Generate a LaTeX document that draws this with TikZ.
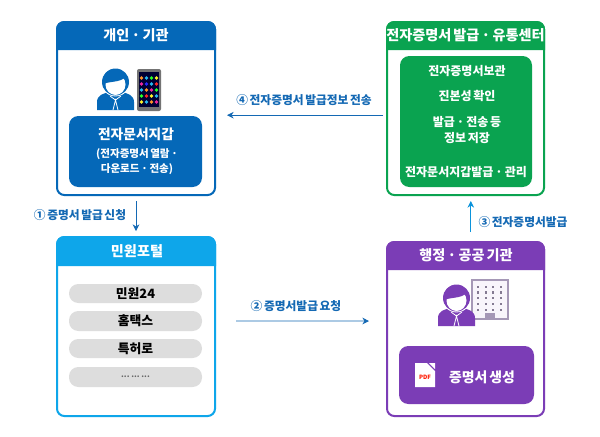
\documentclass[tikz,border=0pt]{standalone}
\usepackage{fontspec}
\setmainfont{Noto Sans CJK KR}[WordSpace=0.6]
\usetikzlibrary{arrows.meta,fit}
\definecolor{govblue}{RGB}{5,104,184}
\definecolor{govgreen}{RGB}{10,163,80}
\definecolor{govcyan}{RGB}{14,166,234}
\definecolor{govpurple}{RGB}{123,61,182}
\definecolor{govpill}{RGB}{221,221,221}
\definecolor{govlabel}{RGB}{20,105,180}
\definecolor{govbldg}{RGB}{165,152,182}
\tikzset{
  panel/.style={rectangle, rounded corners=5.5pt, draw=#1, fill=white, line width=1.5pt, inner sep=0pt},
  headbar/.style={fill=#1, draw=#1, line width=1.5pt},
  headtxt/.style={text=white, font=\bfseries\fontsize{10.6}{12}\selectfont, inner sep=0pt},
  innerbox/.style={rectangle, rounded corners=7pt, fill=#1, inner sep=0pt, text=white, align=center},
  innertxt/.style={text=white, font=\bfseries\fontsize{9}{11.8}\selectfont, inner sep=0pt, align=center},
  pillbox/.style={rectangle, rounded corners=7pt, fill=govpill, inner sep=0pt},
  pilltxt/.style={inner sep=0pt, font=\bfseries\fontsize{9.6}{10}\selectfont},
  flowarrow/.style={-{Stealth[length=5pt,width=5pt]}, line width=.6pt, govlabel},
  flowtxt/.style={text=govlabel, font=\bfseries\fontsize{8.8}{9}\selectfont, inner sep=0pt},
  person/.pic={
    \fill[pic actions] (0,42) -- (0,34) .. controls (0,27) and (7,25) .. (13,24) -- (24,24) .. controls (30,25) and (37,27) .. (37,34) -- (37,42) -- cycle;
    \draw[white, line width=.6pt] (13,28) -- (18.5,32) -- (24,28) (16,42) -- (18.5,32) -- (21,42);
    \fill[white] (18.5,14) circle [radius=14.4*.75pt];
    \fill[pic actions] (18.5,14) circle [radius=13.5*.75pt];
    \fill[white] (18.5,16.5) ellipse [x radius=10*.75pt, y radius=10.5*.75pt];
    \fill[pic actions] (7,16) .. controls (12,13) and (22,15) .. (29,9) -- (30,16) .. controls (34,8) and (24,1) .. (18,1) .. controls (10,1) and (4,8) .. (7,16) -- cycle;
  }
}
\begin{document}
\begin{tikzpicture}[x=.75pt, y=-.75pt]
\useasboundingbox (0,0) rectangle (600,436);
\fill[white] (0,0) rectangle (600,436);
% outer panels
\node[panel=govblue, fit={(57,22) (215,195)}] (citizen) {};
\node[panel=govgreen, fit={(387,22) (544,195)}] (center) {};
\node[panel=govcyan, fit={(57,237) (215,416)}] (portal) {};
\node[panel=govpurple, fit={(387,242) (544,416)}] (agency) {};
% header bars
\filldraw[headbar=govblue] (57,49) [rounded corners=5.5pt] -- (57,22) -- (215,22) [sharp corners] -- (215,49) -- cycle;
\filldraw[headbar=govgreen] (387,49) [rounded corners=5.5pt] -- (387,22) -- (544,22) [sharp corners] -- (544,49) -- cycle;
\filldraw[headbar=govcyan] (57,265) [rounded corners=5.5pt] -- (57,237) -- (215,237) [sharp corners] -- (215,265) -- cycle;
\filldraw[headbar=govpurple] (387,269) [rounded corners=5.5pt] -- (387,242) -- (544,242) [sharp corners] -- (544,269) -- cycle;
\node[headtxt] (citizenhead) at (136,35) {개인\,·\,기관};
\node[headtxt] (centerhead) at (465.5,35) {전자증명서 발급\,·\,유통센터};
\node[headtxt] (portalhead) at (137,251) {민원포털};
\node[headtxt] (agencyhead) at (466,255) {행정\,·\,공공 기관};
% citizen
\pic[fill=govblue] at (97,68) {person};
\fill[black!55, rounded corners=1.5pt] (137,69) rectangle (161,111);
\fill[black!80!blue] (139,72) rectangle (159,107);
\foreach \doty/\cola/\colb/\colc/\cold in {78/orange/cyan/green/yellow,84/magenta/blue/cyan/red,90/cyan/orange/magenta/green,96/green/red/yellow/cyan,102/yellow/cyan/orange/magenta}
  \foreach \dotx/\col in {141.5/\cola,146.5/\colb,151.5/\colc,156.5/\cold}
    \fill[\col!85!white] (\dotx,\doty) circle [radius=1.4pt];
\node[innerbox=govblue, fit={(69,116) (202,187)}] (wallet) {};
\node[innertxt, font=\bfseries\fontsize{10.3}{11}\selectfont] (wallettitle) at (136,134) {전자문서지갑};
\node[innertxt, font=\bfseries\fontsize{7.9}{11.4}\selectfont] (walletsub) at (137,162) {(전자증명서 열람\,·\\다운로드\,·\,전송)};
% center
\node[innerbox=govgreen, fit={(400,56) (532,187)}] (services) {};
\node[innertxt] (keep) at (467,71) {전자증명서보관};
\node[innertxt] (verify) at (467,96) {진본성 확인};
\node[innertxt] (store) at (467,130) {발급\,·\,전송 등\\정보 저장};
\node[innertxt] (manage) at (466,172) {전자문서지갑발급\,·\,관리};
% portal
\node[pillbox, fit={(69,284) (202,303)}] (minwon) {};
\node[pillbox, fit={(69,311) (202,331)}] (hometax) {};
\node[pillbox, fit={(69,339) (202,358)}] (patent) {};
\node[pillbox, fit={(69,367) (202,387)}] (others) {};
\node[pilltxt] (minwontxt) at (minwon) {민원24};
\node[pilltxt] (hometaxtxt) at (hometax) {홈택스};
\node[pilltxt] (patenttxt) at (patent) {특허로};
\node[pilltxt, text=black!60, font=\bfseries\fontsize{6}{8}\selectfont] (otherstxt) at (others) {... ... ...};
% agency
\filldraw[draw=govbldg, fill=govpurple!5, line width=2pt] (472,280) rectangle (508,319);
\foreach \dotx in {478,486,493,501}
  \foreach \doty in {287,292.5,298,304,310}
    \fill[govbldg!80!black] (\dotx-1.3,\doty-1.2) rectangle (\dotx+1.3,\doty+1.2);
\fill[govbldg] (485,313) rectangle (495,320);
\pic[fill=govpurple] at (438,284) {person};
\node[innerbox=govpurple, fit={(399,346) (534,404)}] (issue) {};
\fill[white] (415,363) -- (427,363) -- (435,371) -- (435,387) -- (415,387) -- cycle;
\fill[white] (429,363) -- (435,363) -- (435,369) -- cycle;
\node[inner sep=0pt, text=red!80!orange, font=\bfseries\fontsize{4.4}{5}\selectfont] (pdfmark) at (425,377) {PDF};
\node[innertxt, font=\bfseries\fontsize{10.4}{11}\selectfont] (issuetxt) at (482,377) {증명서 생성};
% connectors
\draw[flowarrow, shorten <=5*.75pt, shorten >=5*.75pt] (citizen.south) -- (portal.north);
\draw[flowarrow, shorten <=3*.75pt, shorten >=11*.75pt] ([yshift=-5pt]center.west) -- ([yshift=-5pt]citizen.east);
\draw[flowarrow, shorten <=20*.75pt, shorten >=17*.75pt] ([yshift=4.1pt]portal.east) -- ([yshift=6pt]agency.west);
\draw[flowarrow, govcyan!70!govblue, shorten <=9*.75pt, shorten >=5*.75pt] ([xshift=4pt]agency.north) -- ([xshift=4pt]center.south);
\node[flowtxt] (step1) at (80,215) {① 증명서 발급 신청};
\node[flowtxt] (step2) at (296,306) {② 증명서발급 요청};
\node[flowtxt] (step3) at (523,222) {③ 전자증명서발급};
\node[flowtxt] (step4) at (304,100) {④ 전자증명서 발급정보 전송};
\end{tikzpicture}
\end{document}
